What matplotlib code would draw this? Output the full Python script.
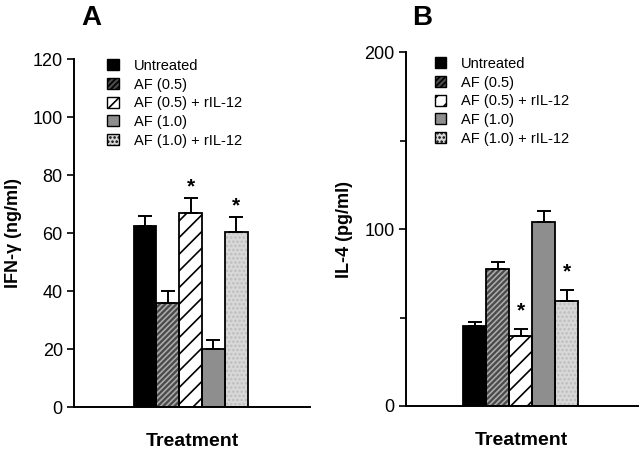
import matplotlib
matplotlib.use("Agg")
import matplotlib.pyplot as plt
from matplotlib.patches import Patch

plt.rcParams['font.family'] = ['Liberation Sans', 'DejaVu Sans']
plt.rcParams['hatch.linewidth'] = 1.2

labels = ["Untreated", "AF (0.5)", "AF (0.5) + rIL-12", "AF (1.0)", "AF (1.0) + rIL-12"]
ifn_vals = [62.5, 36, 67, 20, 60.5]
ifn_err = [3.3, 4, 5, 3, 5]
ifn_star = [False, False, True, False, True]
il4_vals = [45, 77.5, 39.5, 104, 59.5]
il4_err = [2.5, 4, 3.8, 6, 6]
il4_star = [False, False, True, False, True]

faces = ["black", "#4a4a4a", "white", "#8e8e8e", "#d8d8d8"]
hatches = [None, "//////", "//", None, "...."]
hatch_cols = ["black", "#aaaaaa", "black", "#8e8e8e", "#bdbdbd"]

fig = plt.figure(figsize=(6.4, 4.53), dpi=100)
axA = fig.add_axes([0.1156, 0.1015, 0.369, 0.7682])
axB = fig.add_axes([0.634, 0.1038, 0.3625, 0.781])


def draw(ax, vals, errs, stars, ylim, yticks, ylabels, minor, ylab, xlim, starpad, leg_anchor):
    x = list(range(len(vals)))
    for i in x:
        ax.bar(i, vals[i], width=1.0, color=faces[i], hatch=hatches[i],
               edgecolor=hatch_cols[i], linewidth=0, zorder=2)
        ax.bar(i, vals[i], width=1.0, fill=False, edgecolor="black",
               linewidth=1.3, zorder=3)
        ax.errorbar(i, vals[i], yerr=[[0], [errs[i]]], fmt="none", ecolor="black",
                    elinewidth=1.4, capsize=5, capthick=1.4, zorder=4)
        if stars[i]:
            ax.text(i, vals[i] + errs[i] + starpad, "*", ha="center", va="bottom",
                    fontsize=15, fontweight="bold")
    ax.set_xlim(*xlim)
    ax.set_ylim(*ylim)
    ax.set_yticks(yticks)
    ax.set_yticklabels(ylabels)
    if minor:
        ax.set_yticks(minor, minor=True)
        ax.tick_params(axis="y", which="minor", length=4, width=1.2)
    ax.set_xticks([])
    for s in ["top", "right"]:
        ax.spines[s].set_visible(False)
    for s in ["left", "bottom"]:
        ax.spines[s].set_linewidth(1.4)
    ax.tick_params(axis="y", which="major", length=5, width=1.2, labelsize=13, pad=3)
    ax.set_ylabel(ylab, fontsize=13, fontweight="bold", labelpad=8)
    ax.set_xlabel("Treatment", fontsize=14, fontweight="bold", labelpad=19)
    handles = [Patch(facecolor=faces[i], hatch=hatches[i], edgecolor="black", linewidth=1.0)
               for i in x]
    ax.legend(handles, labels, loc="upper left", bbox_to_anchor=leg_anchor,
              frameon=False, fontsize=10.5, handlelength=0.8, handleheight=0.8,
              handletextpad=1.0, labelspacing=0.32, borderaxespad=0)


draw(axA, ifn_vals, ifn_err, ifn_star, (0, 120), [0, 20, 40, 60, 80, 100, 120],
     ["0", "20", "40", "60", "80", "100", "120"], None, "IFN-γ (ng/ml)",
     (-3.12, 7.25), 0.5, (0.117, 1.017))
draw(axB, il4_vals, il4_err, il4_star, (0, 200), [0, 100, 200],
     ["0", "100", "200"], [50, 150], "IL-4 (pg/ml)", (-3.0, 7.09), 5, (0.1, 1.003))

fig.text(0.142, 0.96, "A", fontsize=20, fontweight="bold", ha="center", va="center")
fig.text(0.659, 0.96, "B", fontsize=20, fontweight="bold", ha="center", va="center")

fig.savefig("out.png", dpi=100)
